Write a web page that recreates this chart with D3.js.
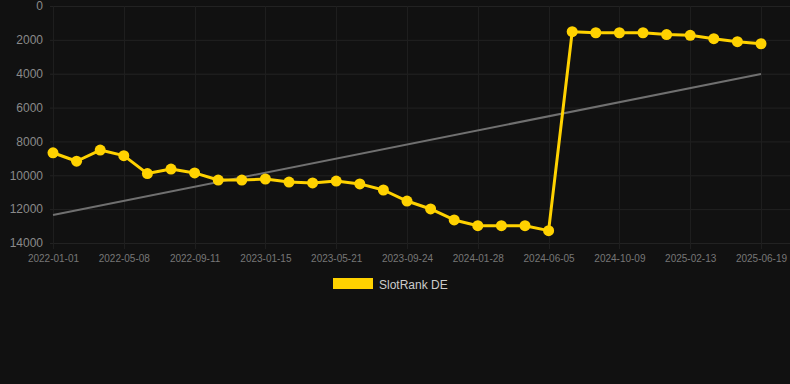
<!DOCTYPE html>
<html>
<head>
<meta charset="utf-8">
<script src="https://cdn.jsdelivr.net/npm/d3@7"></script>
<style>
  html, body { margin: 0; padding: 0; background: #111111; }
  svg { display: block; }
  text { font-family: "Liberation Sans", Arial, Helvetica, sans-serif; }
</style>
</head>
<body>
<svg id="chart" width="790" height="384"></svg>
<script>
const dates = [
  "2022-01-01","2022-02-12","2022-03-26","2022-05-08","2022-06-19","2022-07-31",
  "2022-09-11","2022-10-23","2022-12-04","2023-01-15","2023-02-26","2023-04-09",
  "2023-05-21","2023-07-02","2023-08-13","2023-09-24","2023-11-05","2023-12-17",
  "2024-01-28","2024-03-10","2024-04-23","2024-06-05","2024-07-17","2024-08-28",
  "2024-10-09","2024-11-20","2025-01-02","2025-02-13","2025-03-27","2025-05-08",
  "2025-06-19"
];
const rankValues = [
  8670, 9170, 8510, 8840, 9900, 9630, 9860, 10280, 10280, 10220, 10400, 10450,
  10340, 10510, 10870, 11520, 11990, 12640, 12980, 12980, 12980, 13270,
  1520, 1580, 1580, 1580, 1690, 1730, 1930, 2110, 2230
];
const trendValues = [12340, 4020];
const yTicks = [0, 2000, 4000, 6000, 8000, 10000, 12000, 14000];
const seriesName = "SlotRank DE";

const svg = d3.select("#chart");
const plotLeft = 53, plotRight = 761, gridRight = 790;
const plotTop = 6, plotBottom = 243;

const x = d3.scalePoint().domain(dates).range([plotLeft, plotRight]);
const y = d3.scaleLinear().domain([0, 14000]).range([plotTop, plotBottom]);

const labelDates = dates.filter((d, i) => i % 3 === 0);

// horizontal grid
svg.append("g").selectAll("line").data(yTicks).join("line")
  .attr("x1", 50).attr("x2", gridRight)
  .attr("y1", d => y(d) + 0.5).attr("y2", d => y(d) + 0.5)
  .attr("stroke", "#222222").attr("stroke-width", 1);

// vertical grid
svg.append("g").selectAll("line").data(labelDates).join("line")
  .attr("x1", d => Math.round(x(d)) + 0.5).attr("x2", d => Math.round(x(d)) + 0.5)
  .attr("y1", plotTop).attr("y2", plotBottom + 6)
  .attr("stroke", "#1e1e1e").attr("stroke-width", 1);

// y axis labels
const yAxis = d3.axisLeft(y).tickValues(yTicks).tickSize(0).tickPadding(0).tickFormat(d3.format("d"));
const gy = svg.append("g").attr("transform", "translate(43,0)").call(yAxis);
gy.select(".domain").remove();
gy.selectAll("text").attr("fill", "#8a8a8a").style("font-size", "12px")
  .style("font-family", "'Liberation Sans', Arial, sans-serif");

// x axis labels
const xAxis = d3.axisBottom(x).tickValues(labelDates).tickSize(0).tickPadding(0);
const gx = svg.append("g").attr("transform", `translate(0,${plotBottom + 12})`).call(xAxis);
gx.select(".domain").remove();
gx.selectAll("text").attr("fill", "#777777").style("font-size", "10px")
  .style("font-family", "'Liberation Sans', Arial, sans-serif");

// trend line
svg.append("line")
  .attr("x1", x(dates[0])).attr("y1", y(trendValues[0]))
  .attr("x2", x(dates[dates.length - 1])).attr("y2", y(trendValues[1]))
  .attr("stroke", "#707070").attr("stroke-width", 2);

// series line
const data = dates.map((d, i) => ({ d, v: rankValues[i] }));
svg.append("path").datum(data)
  .attr("fill", "none").attr("stroke", "#FFD200").attr("stroke-width", 3)
  .attr("stroke-linejoin", "round")
  .attr("d", d3.line().x(p => x(p.d)).y(p => y(p.v)));

svg.append("g").selectAll("circle").data(data).join("circle")
  .attr("cx", p => x(p.d)).attr("cy", p => y(p.v)).attr("r", 5.5)
  .attr("fill", "#FFD200");

// legend
const lg = svg.append("g");
lg.append("rect").attr("x", 333).attr("y", 278).attr("width", 40).attr("height", 11)
  .attr("fill", "#FFD200");
lg.append("text").attr("x", 379).attr("y", 288.5).text(seriesName)
  .attr("fill", "#cccccc").style("font-size", "12px");
</script>
</body>
</html>
